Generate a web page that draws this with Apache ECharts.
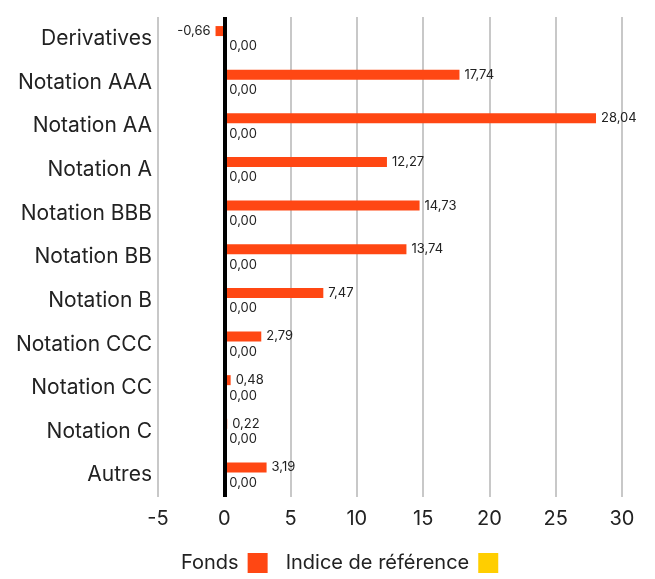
<!DOCTYPE html>
<html>
<head>
<meta charset="utf-8">
<script src="https://cdn.jsdelivr.net/npm/echarts@6/dist/echarts.min.js"></script>
<style>
  html, body { margin: 0; padding: 0; background: #fff; }
  #main { width: 655px; height: 579px; }
</style>
</head>
<body>
<div id="main"></div>
<script>
// categories et valeurs
var categories = ['Derivatives', 'Notation AAA', 'Notation AA', 'Notation A', 'Notation BBB',
    'Notation BB', 'Notation B', 'Notation CCC', 'Notation CC', 'Notation C', 'Autres'];
var fonds = [-0.66, 17.74, 28.04, 12.27, 14.73, 13.74, 7.47, 2.79, 0.48, 0.22, 3.19];
var indice = [0, 0, 0, 0, 0, 0, 0, 0, 0, 0, 0];

var myChart = echarts.init(document.getElementById('main'));

function fmt(p) {
    return p.value.toFixed(2).replace('.', ',');
}

var fondsData = fonds.map(function (v) {
    if (v < 0) return { value: v, label: { position: 'left' } };
    return v;
});

var option = {
    textStyle: { fontFamily: 'Inter' },
    grid: { left: 158, right: 33, top: 17, bottom: 82 },
    legend: {
        bottom: 1,
        left: 176,
        align: 'right',
        icon: 'rect',
        itemWidth: 20,
        itemHeight: 20,
        itemGap: 18,
        textStyle: { fontSize: 20, color: '#222', padding: [0, 4, 0, 0] },
        data: ['Fonds', 'Indice de référence']
    },
    xAxis: {
        type: 'value',
        min: -5,
        max: 30,
        interval: 5,
        axisLine: { show: false },
        axisTick: { show: false },
        axisLabel: { fontSize: 20, color: '#222', margin: 12 },
        splitLine: { lineStyle: { color: '#c8c8c8', width: 2 } }
    },
    yAxis: {
        type: 'category',
        data: categories,
        inverse: true,
        axisLine: { show: false },
        axisTick: { show: false },
        axisLabel: { fontSize: 21, color: '#222', margin: 6 }
    },
    series: [{
        name: 'Fonds',
        type: 'bar',
        data: fondsData,
        barWidth: 10,
        barGap: '55%',
        itemStyle: { color: '#ff4713' },
        label: { show: true, position: 'right', distance: 5, fontSize: 13, color: '#222', formatter: fmt },
        markLine: {
            silent: true,
            symbol: 'none',
            label: { show: false },
            lineStyle: { color: '#000', width: 4, type: 'solid' },
            data: [{ xAxis: 0 }]
        }
    }, {
        name: 'Indice de référence',
        type: 'bar',
        data: indice,
        barWidth: 10,
        itemStyle: { color: '#ffce00' },
        label: { show: true, position: 'right', distance: 5, fontSize: 13, color: '#222', formatter: fmt }
    }]
};

myChart.setOption(option);
</script>
</body>
</html>
